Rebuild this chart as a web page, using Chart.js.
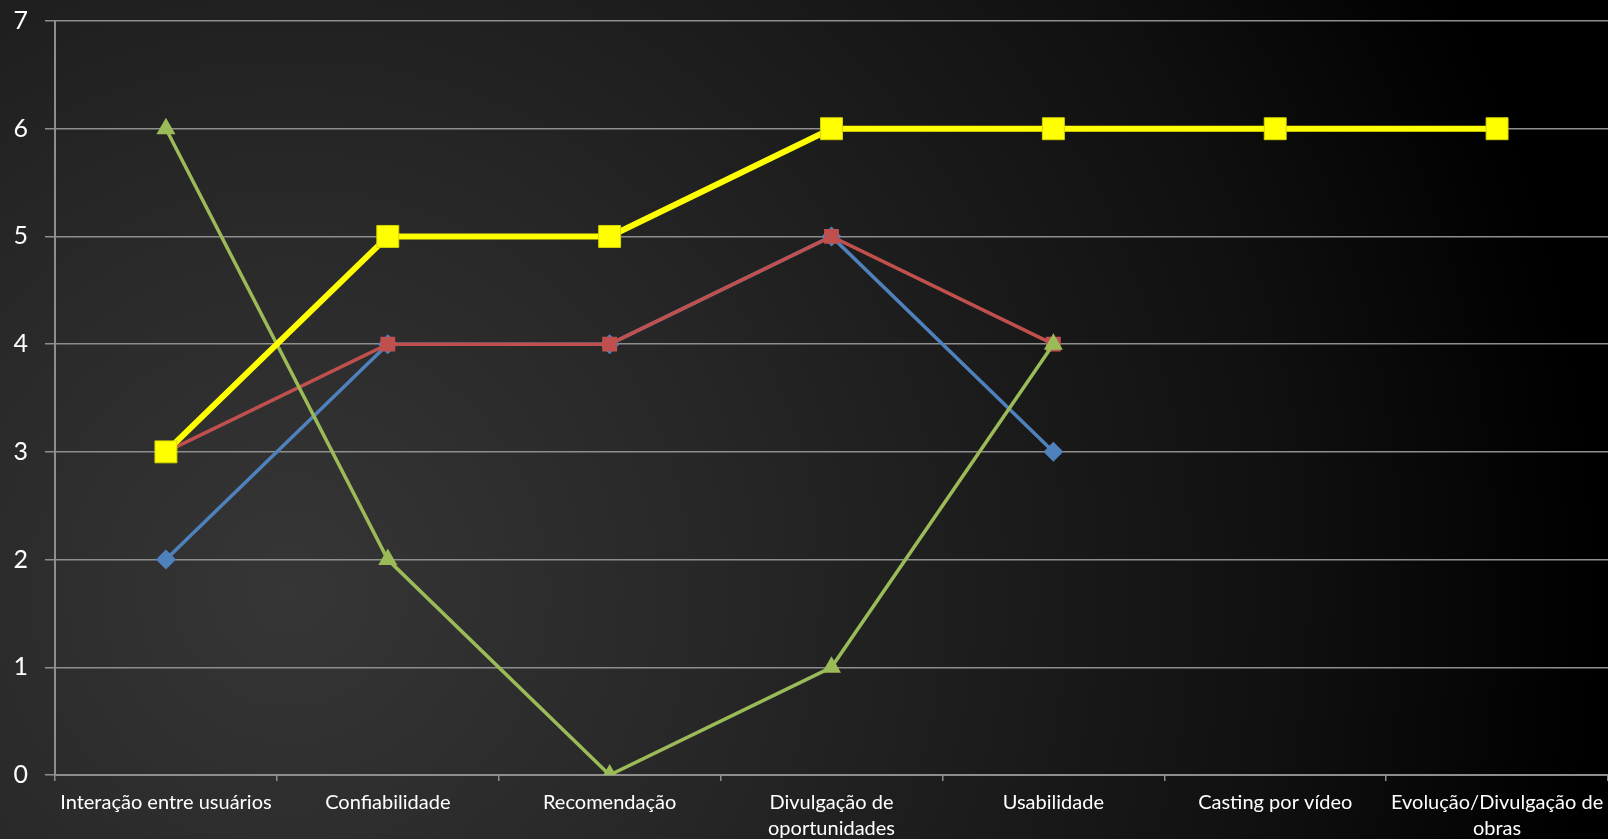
<!DOCTYPE html>
<html>
<head>
<meta charset="utf-8">
<script src="https://cdn.jsdelivr.net/npm/chart.js@4"></script>
<style>
html,body{margin:0;padding:0;width:1608px;height:839px;overflow:hidden;}
body{background:radial-gradient(circle 1400px at 290px 590px,#363636 0px,#272727 430px,#101010 1000px,#000 1300px);}
#wrap{position:absolute;left:0;top:0;width:1608px;height:839px;}
</style>
</head>
<body>
<div id="wrap"><canvas id="c" width="1608" height="839"></canvas></div>
<script>
const categories = ["Interação entre usuários", "Confiabilidade", "Recomendação", ["Divulgação de", "oportunidades"], "Usabilidade", "Casting por vídeo", ["Evolução/Divulgação de", "obras"]];
const seriesBlue = [2, 4, 4, 5, 3, null, null];
const seriesRed = [3, 4, 4, 5, 4, null, null];
const seriesGreen = [6, 2, 0, 1, 4, null, null];
const seriesYellow = [3, 5, 5, 6, 6, 6, 6];
const yTicks = [0, 1, 2, 3, 4, 5, 6, 7];

const grid = '#8e8e8e';
new Chart(document.getElementById('c'), {
  type: 'line',
  data: {
    labels: categories,
    datasets: [
      {data: seriesYellow, borderColor: '#ffff00', backgroundColor: '#ffff00', borderWidth: 6, pointStyle: 'rect', pointRadius: 15.5, pointBorderColor: '#d6d600', pointBorderWidth: 1, order: 1},
      {data: seriesGreen, borderColor: '#9bbb59', backgroundColor: '#9bbb59', borderWidth: 3.5, pointStyle: 'triangle', pointRadius: 11, pointBorderWidth: 0, order: 2},
      {data: seriesRed, borderColor: '#c0504d', backgroundColor: '#c0504d', borderWidth: 3.5, pointStyle: 'rect', pointRadius: 10.5, pointBorderWidth: 0, order: 3},
      {data: seriesBlue, borderColor: '#4f81bd', backgroundColor: '#4f81bd', borderWidth: 3.5, pointStyle: 'rectRot', pointRadius: 10, pointBorderWidth: 0, order: 4}
    ]
  },
  options: {
    responsive: false,
    animation: false,
    spanGaps: false,
    layout: {autoPadding: false, padding: {top: 21, right: 0, left: 0, bottom: 0}},
    plugins: {legend: {display: false}, tooltip: {enabled: false}},
    elements: {line: {tension: 0}},
    scales: {
      x: {
        offset: true,
        grid: {offset: true, drawOnChartArea: false, drawTicks: true, tickLength: 6, color: grid, lineWidth: 1.5},
        border: {display: true, color: grid, width: 2},
        ticks: {color: '#ffffff', font: {family: 'Lato', size: 20, lineHeight: 1.32}, padding: 8, maxRotation: 0, autoSkip: false},
        afterFit: s => { s.height = 64; s.paddingLeft = 0; s.paddingRight = 0; }
      },
      y: {
        min: 0, max: 7,
        afterBuildTicks: s => { s.ticks = yTicks.map(v => ({value: v})); },
        grid: {color: grid, lineWidth: 1.5, tickLength: 10},
        border: {display: true, color: grid, width: 2},
        ticks: {color: '#ffffff', font: {family: 'Lato', size: 25}, padding: 17},
        afterFit: s => { s.width = 55; s.paddingTop = 0; s.paddingBottom = 0; }
      }
    }
  }
});
</script>
</body>
</html>
